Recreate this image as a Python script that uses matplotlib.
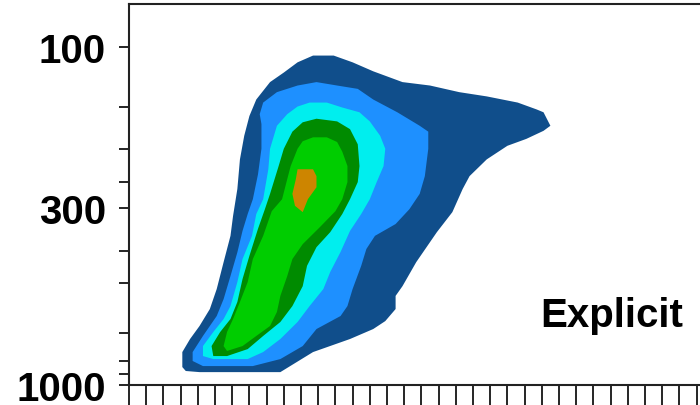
import matplotlib
matplotlib.use('Agg')
import matplotlib.pyplot as plt
from matplotlib.ticker import NullFormatter, FixedLocator

plt.rcParams['font.family'] = ['Liberation Sans', 'DejaVu Sans']

# contour shells, outermost first; x in tick units, y in hPa
shell1_x = [3.1, 3.3, 4.1, 8.8, 10.7, 12.85, 14.2, 14.9, 15.5, 15.5, 15.9, 16.7, 17.9, 18.8,
            19.4, 19.8, 20.8, 22.0, 23.1, 24.1, 24.5, 24.1, 23.7, 22.6, 20.8, 19.2, 17.5,
            15.9, 14.2, 13.0, 11.9, 10.7, 9.8, 9.0, 8.2, 7.4, 7.0, 6.7, 6.45, 6.3, 6.05,
            5.9, 5.5, 5.1, 4.7, 4.1, 3.55, 3.1]
shell1_p = [885, 909, 916, 916, 799, 731, 683, 647, 596, 545, 510, 433, 353, 308,
            263, 241, 215, 196, 187, 177, 171, 156, 153, 146, 140, 136, 130,
            127, 118, 111, 106, 106, 111, 119, 127, 143, 160, 183, 215, 263, 316,
            362, 433, 520, 596, 669, 731, 799]

shell2_x = [7.8, 8.6, 9.8, 10.9, 12.1, 13.3, 14.2, 15.6, 16.9, 17.4, 17.4, 17.2, 16.9, 16.3,
            15.5, 14.3, 13.8, 13.5, 13.0, 12.7, 12.3, 10.9, 10.1, 8.8, 7.2, 4.3, 3.7, 3.7,
            4.3, 5.1, 5.5, 5.9, 6.3, 6.6, 6.9, 7.2, 7.5, 7.7, 7.7, 7.6]
shell2_p = [146, 136, 130, 127, 130, 133, 143, 156, 171, 178, 200, 241, 272, 302,
            334, 362, 396, 444, 520, 584, 625, 683, 767, 838, 879, 879, 849, 799,
            716, 625, 557, 476, 405, 350, 312, 282, 238, 200, 169, 158]

shell3_x = [9.2, 9.8, 10.5, 11.5, 12.4, 13.4, 14.0, 14.6, 14.9, 14.8, 14.4, 14.0, 13.5, 12.85,
            12.3, 11.7, 11.3, 10.5, 9.8, 8.8, 7.8, 6.9, 4.9, 4.3, 4.3, 4.9, 5.5, 5.9, 6.3,
            6.6, 7.15, 7.4, 7.8, 8.1, 8.2, 8.6]
shell3_p = [158, 150, 146, 146, 151, 156, 166, 183, 200, 225, 251, 282, 312, 350,
            404, 463, 520, 584, 651, 731, 799, 838, 838, 821, 767, 697, 638, 584, 496,
            424, 362, 312, 282, 230, 200, 171]

shell4_x = [9.5, 10.1, 10.9, 12.1, 12.85, 13.3, 13.4, 13.3, 12.85, 12.4, 11.7, 10.9, 10.35,
            10.1, 9.5, 8.8, 7.8, 6.9, 5.7, 4.9, 4.8, 5.3, 5.9, 6.3, 6.6, 7.0, 7.5, 7.9,
            8.2, 8.7, 9.0]
shell4_p = [178, 167, 163, 166, 175, 194, 225, 251, 282, 312, 353, 391, 444,
            510, 584, 651, 716, 783, 821, 821, 767, 697, 638, 568, 486, 415, 345, 302,
            272, 225, 200]

shell5_x = [9.8, 10.1, 10.7, 11.5, 12.1, 12.4, 12.7, 12.7, 12.4, 12.0, 11.1, 10.1, 9.5, 9.2,
            8.8, 8.6, 8.2, 7.4, 6.6, 5.7, 5.5, 5.7, 6.05, 6.45, 6.9, 7.2, 7.8, 8.3, 8.9,
            9.2, 9.4]
shell5_p = [200, 190, 185, 185, 191, 204, 225, 251, 282, 306, 341, 383, 424, 476,
            545, 608, 669, 716, 767, 793, 767, 697, 638, 568, 496, 424, 362, 306, 282,
            246, 225]

shell6_x = [9.8, 10.7, 10.9, 10.9, 10.4, 10.1, 9.65, 9.5, 9.7]
shell6_p = [230, 230, 241, 260, 282, 308, 295, 272, 246]

shell_colors = ['#104E8B', '#1E90FF', '#00EEEE', '#008B00', '#00CD00', '#CD8500']

p_labeled = [100, 300, 1000]
p_minor = [150, 200, 250, 400, 500, 700, 850, 925]
label_text = 'Explicit'

fig = plt.figure(figsize=(7, 4.06), dpi=100)
ax = fig.add_axes([129/700, 20/406, 640/700, 381/406])

shells = [(shell1_x, shell1_p), (shell2_x, shell2_p), (shell3_x, shell3_p),
          (shell4_x, shell4_p), (shell5_x, shell5_p), (shell6_x, shell6_p)]
for (xs, ps), c in zip(shells, shell_colors):
    ax.fill(xs, ps, color=c, linewidth=0)

ax.set_yscale('log')
ax.set_ylim(1000, 74.6)
ax.set_xlim(0, 640/17.2)

ax.yaxis.set_major_locator(FixedLocator(p_labeled))
ax.set_yticklabels([str(v) for v in p_labeled], fontsize=29, fontweight='bold')
ax.yaxis.set_minor_locator(FixedLocator(p_minor))
ax.yaxis.set_minor_formatter(NullFormatter())
ax.tick_params(axis='y', which='both', direction='out', length=7.5, width=1.2,
               pad=9, colors='black')

ax.set_xticks(range(0, 38))
ax.tick_params(axis='x', which='major', direction='out', length=16, width=1.2,
               labelbottom=False)
ax.xaxis.set_minor_locator(FixedLocator([]))

for s in ax.spines.values():
    s.set_linewidth(1.5)
    s.set_color('#222222')

fig.text(540/700, (406-327)/406, label_text, fontsize=29, fontweight='bold',
         ha='left', va='baseline')

plt.savefig('out.png', dpi=100)
